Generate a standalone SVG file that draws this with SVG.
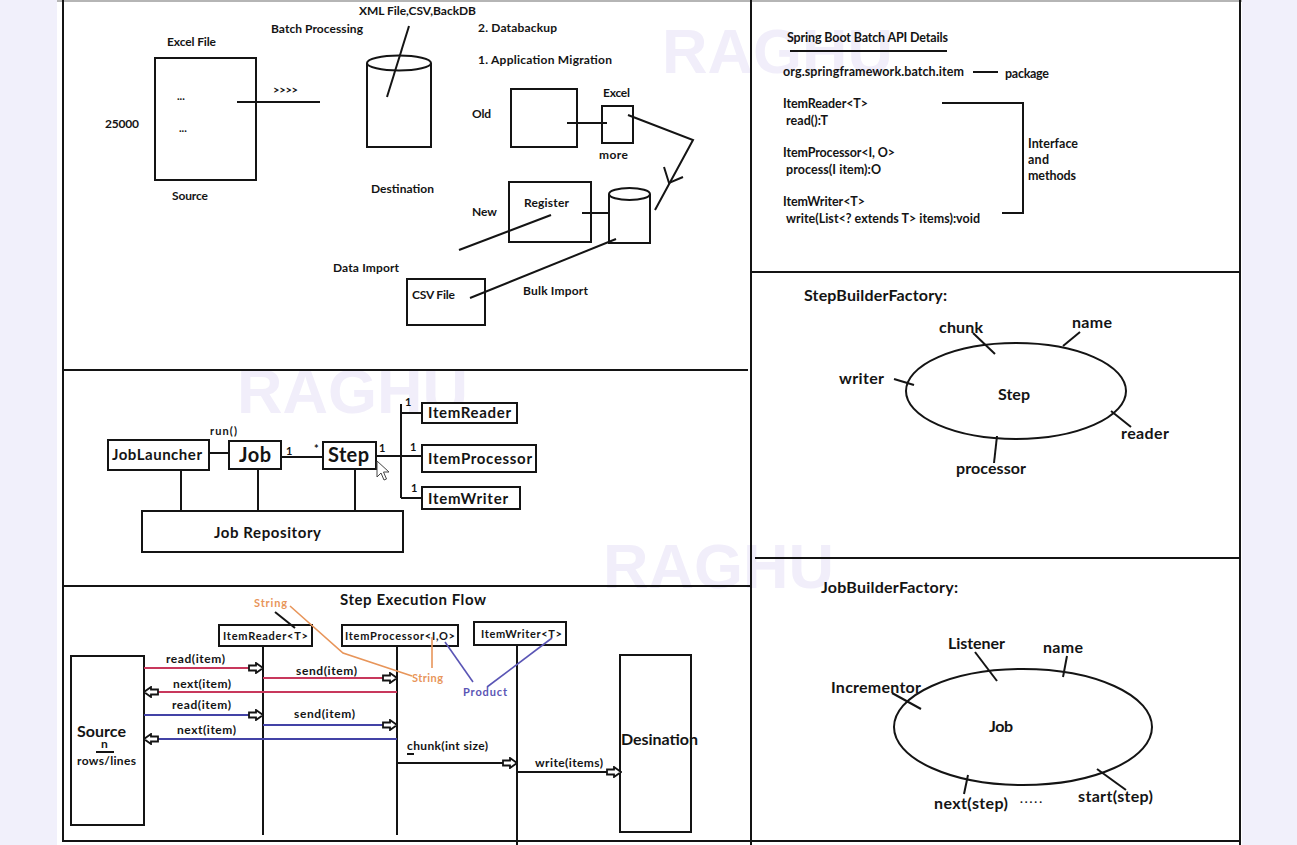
<svg xmlns="http://www.w3.org/2000/svg" width="1297" height="845" viewBox="0 0 1297 845">
<defs>
<style>
.f{font-family:Lato,"Liberation Sans",Arial,sans-serif;font-weight:700;fill:#141414}
.s10{font-size:10px}.s11{font-size:11px}.s12{font-size:12px}.s125{font-size:12.5px}.s15{font-size:15px}.s16{font-size:16px}.s20{font-size:20px}
.ln{stroke:#141414;stroke-width:2;fill:none}
.box{fill:#fff;stroke:#141414;stroke-width:2}
.wm{font-family:"Liberation Sans",Arial,sans-serif;font-weight:700;font-size:63px;fill:#f1eefa}
.red{stroke:#c8385c;stroke-width:2;fill:none}
.blu{stroke:#4343a6;stroke-width:2;fill:none}
.org{stroke:#e8955a;stroke-width:1.6;fill:none}
.pbl{stroke:#5a55b5;stroke-width:1.6;fill:none}
</style>
<marker id="ha" viewBox="0 0 16 12" refX="15" refY="6" markerWidth="16" markerHeight="12" orient="auto" markerUnits="userSpaceOnUse">
<path d="M1,3.5 H8 V1 L15,6 L8,11 V8.5 H1 Z" fill="#fff" stroke="#141414" stroke-width="1.8"/>
</marker>
</defs>

<!-- background and frame -->
<rect x="0" y="0" width="1297" height="845" fill="#f1f0fb"/>
<rect x="57" y="0" width="1185" height="845" fill="#fff"/>
<text class="wm" x="662" y="73">RAGHU</text>
<text class="wm" x="237" y="413">RAGHU</text>
<text class="wm" x="603" y="588">RAGHU</text>
<g id="frame">
<line x1="57" y1="1" x2="1242" y2="1" stroke="#b5b5b5" stroke-width="2"/>
<line class="ln" x1="63" y1="0" x2="63" y2="842"/>
<line class="ln" x1="1240" y1="0" x2="1240" y2="845"/>
<line class="ln" x1="63" y1="841" x2="1240" y2="841"/>
<line class="ln" x1="751" y1="0" x2="751" y2="845"/>
<line class="ln" x1="63" y1="370" x2="748" y2="370" stroke-width="2.5"/>
<line class="ln" x1="63" y1="586" x2="751" y2="586" stroke-width="2.5"/>
<line class="ln" x1="751" y1="272" x2="1240" y2="272"/>
<line class="ln" x1="755" y1="558" x2="1240" y2="558"/>
</g>

<!-- ===== Top-left: batch processing ===== -->
<g id="excel-source">
<text class="f s12" x="167" y="46" textLength="49">Excel File</text>
<rect class="box" x="155" y="58" width="101" height="122"/>
<text class="f s11" x="177" y="100">...</text>
<text class="f s11" x="179" y="132">...</text>
<text class="f s12" x="105" y="128" textLength="34">25000</text>
<text class="f s12" x="172" y="200" textLength="36">Source</text>
</g>
<g id="batch-label">
<text class="f s12" x="271" y="33" textLength="92">Batch Processing</text>
<text class="f s11" x="273" y="94" textLength="25">&gt;&gt;&gt;&gt;</text>
</g>
<g id="destination-db">
<path class="ln" d="M367,63 V147 H431 V63" fill="#fff"/>
<ellipse class="ln" cx="399" cy="63" rx="32" ry="7.5"/>
<text class="f s12" x="359" y="15" textLength="117">XML File,CSV,BackDB</text>
<text class="f s12" x="371" y="193" textLength="63">Destination</text>
</g>
<g id="uses">
<text class="f s12" x="478" y="32" textLength="79">2. Databackup</text>
<text class="f s12" x="478" y="64" textLength="134">1. Application Migration</text>
</g>
<g id="old-app">
<rect class="box" x="511" y="89" width="66" height="58"/>
<text class="f s12" x="472" y="118" textLength="19">Old</text>
</g>
<g id="excel-small">
<rect class="box" x="602" y="106" width="31" height="37"/>
<text class="f s12" x="603" y="97" textLength="27">Excel</text>
<text class="f s12" x="599" y="159" textLength="29">more</text>
</g>
<g id="new-app">
<rect class="box" x="509" y="182" width="82" height="60"/>
<text class="f s12" x="524" y="207" textLength="45">Register</text>
<text class="f s12" x="472" y="216" textLength="25">New</text>
</g>
<g id="small-db">
<path class="ln" d="M609,194 V243 H650 V194" fill="#fff"/>
<ellipse class="ln" cx="629.5" cy="194" rx="20.5" ry="6"/>
</g>
<g id="csv-file">
<rect class="box" x="407" y="279" width="78" height="46"/>
<text class="f s12" x="412" y="299" textLength="43">CSV File</text>
<text class="f s12" x="333" y="272" textLength="66">Data Import</text>
<text class="f s12" x="523" y="295" textLength="65">Bulk Import</text>
</g>
<g id="connectors-top-left">
<line class="ln" x1="237" y1="102" x2="320" y2="102"/>
<line class="ln" x1="409" y1="26" x2="387" y2="97"/>
<line class="ln" x1="567" y1="123" x2="607" y2="123"/>
<polyline class="ln" points="628,115 693,140 655,210"/>
<polyline class="ln" points="664,167 669,183 683,177"/>
<line class="ln" x1="459" y1="250" x2="551" y2="215"/>
<line class="ln" x1="582" y1="213" x2="609" y2="213"/>
<line class="ln" x1="470" y1="298" x2="616" y2="239"/>
</g>

<!-- ===== Top-right: API details ===== -->
<g id="api-details">
<text class="f s125" x="787" y="42" textLength="161">Spring Boot Batch API Details</text>
<line class="ln" x1="790" y1="51" x2="947" y2="51"/>
<text class="f s125" x="783" y="76" textLength="181">org.springframework.batch.item</text>
<line class="ln" x1="973" y1="72" x2="998" y2="72"/>
<text class="f s125" x="1005" y="78" textLength="44">package</text>
<text class="f s125" x="783" y="108" textLength="85">ItemReader&lt;T&gt;</text>
<text class="f s125" x="786" y="125" textLength="42">read():T</text>
<text class="f s125" x="783" y="157" textLength="112">ItemProcessor&lt;I, O&gt;</text>
<text class="f s125" x="786" y="174" textLength="95">process(I item):O</text>
<text class="f s125" x="783" y="206" textLength="82">ItemWriter&lt;T&gt;</text>
<text class="f s125" x="786" y="223" textLength="194">write(List&lt;? extends T&gt; items):void</text>
<polyline class="ln" points="942,103 1023,103 1023,213 1002,213"/>
<text class="f s125" x="1028" y="148" textLength="50">Interface</text>
<text class="f s125" x="1028" y="164" textLength="21">and</text>
<text class="f s125" x="1028" y="180" textLength="48">methods</text>
</g>

<!-- ===== Middle-left: architecture ===== -->
<g id="joblauncher">
<rect class="box" x="108" y="440" width="101" height="30"/>
<text class="f s15" x="112" y="460" textLength="90">JobLauncher</text>
<text class="f s11" x="210" y="435" textLength="27">run()</text>
</g>
<g id="job">
<rect class="box" x="229" y="441" width="52" height="28"/>
<text class="f s20" x="239" y="462" textLength="32">Job</text>
</g>
<g id="step">
<rect class="box" x="323" y="442" width="53" height="27"/>
<text class="f s20" x="328" y="462" textLength="41">Step</text>
</g>
<g id="itemreader">
<rect class="box" x="422" y="403" width="95" height="20"/>
<text class="f s15" x="428" y="418" textLength="83">ItemReader</text>
</g>
<g id="itemprocessor">
<rect class="box" x="422" y="445" width="114" height="27"/>
<text class="f s15" x="428" y="464" textLength="104">ItemProcessor</text>
</g>
<g id="itemwriter">
<rect class="box" x="422" y="487" width="98" height="22"/>
<text class="f s15" x="428" y="504" textLength="80">ItemWriter</text>
</g>
<g id="jobrepository">
<rect class="box" x="142" y="511" width="261" height="41"/>
<text class="f s15" x="214" y="538" textLength="107">Job Repository</text>
</g>
<g id="connectors-arch">
<line class="ln" x1="209" y1="453" x2="229" y2="453"/>
<line class="ln" x1="281" y1="457" x2="323" y2="457"/>
<line class="ln" x1="376" y1="456" x2="422" y2="456"/>
<line class="ln" x1="401" y1="404" x2="401" y2="498"/>
<line class="ln" x1="401" y1="413" x2="422" y2="413"/>
<line class="ln" x1="401" y1="498" x2="422" y2="498"/>
<line class="ln" x1="181" y1="470" x2="181" y2="511"/>
<line class="ln" x1="258" y1="469" x2="258" y2="511"/>
<line class="ln" x1="355" y1="469" x2="355" y2="511"/>
<text class="f s11" x="286" y="455">1</text>
<text class="f s11" x="314" y="453">*</text>
<text class="f s11" x="379" y="452">1</text>
<text class="f s11" x="405" y="406">1</text>
<text class="f s11" x="410" y="451">1</text>
<text class="f s11" x="411" y="492">1</text>
</g>
<path d="M377,461 V477 L381,473 L384,480 L386.5,479 L383.5,472 L389,472 Z" fill="#fff" stroke="#444" stroke-width="1"/>

<!-- ===== Bottom-left: step execution flow ===== -->
<text class="f s15" x="340" y="605" textLength="146">Step Execution Flow</text>
<g id="source">
<rect class="box" x="71" y="656" width="73" height="169"/>
<text class="f s16" x="77" y="737" textLength="49">Source</text>
<text class="f s12" x="101" y="748">n</text>
<line class="ln" x1="96" y1="752" x2="114" y2="752" stroke-width="1.5"/>
<text class="f s12" x="77" y="765" textLength="59">rows/lines</text>
</g>
<g id="seq-itemreader">
<rect class="box" x="219" y="625" width="93" height="21"/>
<text class="f s11" x="223" y="640" textLength="85">ItemReader&lt;T&gt;</text>
</g>
<g id="seq-itemprocessor">
<rect class="box" x="342" y="625" width="116" height="21"/>
<text class="f s11" x="345" y="640" textLength="110">ItemProcessor&lt;I,O&gt;</text>
</g>
<g id="seq-itemwriter">
<rect class="box" x="474" y="622" width="92" height="23"/>
<text class="f s11" x="481" y="638" textLength="81">ItemWriter&lt;T&gt;</text>
</g>
<g id="destination">
<rect class="box" x="620" y="655" width="71" height="177"/>
<text class="f s16" x="621" y="745" textLength="77">Desination</text>
</g>
<g id="connectors-flow">
<line class="ln" x1="263" y1="646" x2="263" y2="835"/>
<line class="ln" x1="397" y1="646" x2="397" y2="835"/>
<line class="ln" x1="517" y1="645" x2="517" y2="845"/>
<line class="red" x1="144" y1="668" x2="263" y2="668" marker-end="url(#ha)"/>
<line class="red" x1="263" y1="678" x2="397" y2="678" marker-end="url(#ha)"/>
<line class="red" x1="397" y1="692" x2="144" y2="692" marker-end="url(#ha)"/>
<line class="blu" x1="144" y1="715" x2="263" y2="715" marker-end="url(#ha)"/>
<line class="blu" x1="263" y1="725" x2="397" y2="725" marker-end="url(#ha)"/>
<line class="blu" x1="397" y1="739" x2="144" y2="739" marker-end="url(#ha)"/>
<line class="ln" x1="397" y1="763" x2="517" y2="763" marker-end="url(#ha)"/>
<line class="ln" x1="517" y1="772" x2="621" y2="772" marker-end="url(#ha)"/>
<text class="f s12" x="166" y="663" textLength="59">read(item)</text>
<text class="f s12" x="296" y="675" textLength="61">send(item)</text>
<text class="f s12" x="173" y="688" textLength="58">next(item)</text>
<text class="f s12" x="172" y="709" textLength="59">read(item)</text>
<text class="f s12" x="294" y="718" textLength="61">send(item)</text>
<text class="f s12" x="177" y="734" textLength="59">next(item)</text>
<text class="f s12" x="407" y="750" textLength="81">chunk(int size)</text>
<line class="ln" x1="407" y1="754" x2="414" y2="754" stroke-width="1.5"/>
<text class="f s12" x="535" y="767" textLength="68">write(items)</text>
</g>
<g id="type-notes">
<text class="f s11" x="254" y="607" textLength="33" style="fill:#e8955a">String</text>
<line class="ln" x1="275" y1="612" x2="295" y2="628" stroke-width="1.6"/>
<polyline class="org" points="290,606 343,653 412,676"/>
<line class="org" x1="432" y1="637" x2="432" y2="668"/>
<text class="f s11" x="412" y="682" textLength="31" style="fill:#e8955a">String</text>
<line class="pbl" x1="445" y1="642" x2="473" y2="682"/>
<line class="pbl" x1="552" y1="638" x2="487" y2="687"/>
<text class="f s11" x="463" y="696" textLength="44" style="fill:#5a55b5">Product</text>
</g>

<!-- ===== Right middle: StepBuilderFactory ===== -->
<g id="stepbuilderfactory">
<text class="f s16" x="804" y="301" textLength="143">StepBuilderFactory:</text>
<ellipse class="ln" cx="1016" cy="391" rx="110" ry="48"/>
<text class="f s16" x="998" y="400" textLength="32">Step</text>
<text class="f s16" x="939" y="333" textLength="44">chunk</text>
<line class="ln" x1="973" y1="333" x2="995" y2="354"/>
<text class="f s16" x="1072" y="328" textLength="40">name</text>
<line class="ln" x1="1063" y1="346" x2="1080" y2="332"/>
<text class="f s16" x="839" y="384" textLength="45">writer</text>
<line class="ln" x1="894" y1="379" x2="914" y2="385"/>
<text class="f s16" x="1121" y="439" textLength="48">reader</text>
<line class="ln" x1="1111" y1="411" x2="1131" y2="427"/>
<text class="f s16" x="956" y="474" textLength="70">processor</text>
<line class="ln" x1="997" y1="436" x2="994" y2="463"/>
</g>

<!-- ===== Right bottom: JobBuilderFactory ===== -->
<g id="jobbuilderfactory">
<text class="f s16" x="821" y="593" textLength="137">JobBuilderFactory:</text>
<ellipse class="ln" cx="1023" cy="727" rx="129" ry="58"/>
<text class="f s16" x="989" y="732" textLength="24">Job</text>
<text class="f s16" x="948" y="649" textLength="57">Listener</text>
<line class="ln" x1="975" y1="652" x2="997" y2="681"/>
<text class="f s16" x="1043" y="653" textLength="40">name</text>
<line class="ln" x1="1067" y1="656" x2="1063" y2="677"/>
<text class="f s16" x="831" y="693" textLength="90">Incrementor</text>
<line class="ln" x1="892" y1="693" x2="921" y2="709"/>
<text class="f s16" x="934" y="809" textLength="74">next(step)</text>
<line class="ln" x1="968" y1="775" x2="964" y2="794"/>
<text class="f s12" x="1020" y="803" textLength="22">.....</text>
<text class="f s16" x="1078" y="802" textLength="75">start(step)</text>
<line class="ln" x1="1097" y1="769" x2="1126" y2="790"/>
</g>
</svg>
